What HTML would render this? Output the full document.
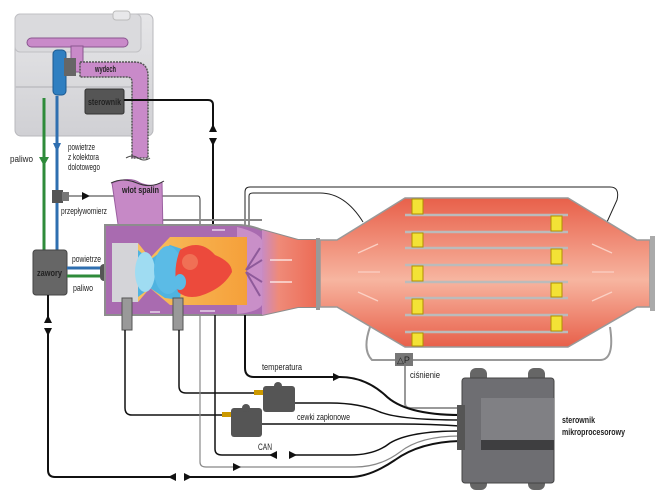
<!DOCTYPE html>
<html><head><meta charset="utf-8"><style>
html,body{margin:0;padding:0;background:#fff}
svg{display:block}
text{font-family:"Liberation Sans",Arial,sans-serif;font-size:9px;fill:#222}
.b{font-weight:bold}
</style></head><body>
<svg width="660" height="496" viewBox="0 0 660 496" xmlns="http://www.w3.org/2000/svg">
<defs>
<linearGradient id="pk" x1="0" y1="0" x2="0" y2="1">
<stop offset="0" stop-color="#e8604a"/><stop offset="0.55" stop-color="#f7b5a0"/><stop offset="1" stop-color="#e8604a"/></linearGradient>
<linearGradient id="tube" x1="0" y1="0" x2="1" y2="0">
<stop offset="0" stop-color="#c88bc4"/><stop offset="0.3" stop-color="#ef8a78"/><stop offset="1" stop-color="#ec6b55"/></linearGradient>
<linearGradient id="orng" x1="0" y1="0" x2="1" y2="0">
<stop offset="0" stop-color="#f8c060"/><stop offset="1" stop-color="#f5a03a"/></linearGradient>
<linearGradient id="eng" x1="0" y1="0" x2="0" y2="1">
<stop offset="0" stop-color="#e6e6e8"/><stop offset="1" stop-color="#d0d0d4"/></linearGradient>
</defs>

<!-- ENGINE -->
<rect x="15" y="14" width="138" height="122" rx="6" fill="url(#eng)" stroke="#b8b8bc"/>
<rect x="15" y="14" width="126" height="38" rx="5" fill="#dadadd" stroke="#c0c0c4"/>
<rect x="113" y="11" width="17" height="9" rx="3" fill="#e8e8ea" stroke="#bbb"/>
<rect x="15" y="86" width="125" height="2" fill="#c4c4c8"/>
<rect x="27" y="38" width="101" height="9" rx="4.5" fill="#c98ac9" stroke="#8a5590"/>
<rect x="71" y="46" width="12" height="26" fill="#c98ac9" stroke="#8a5590"/>
<path d="M80 62 H134 Q148 62 148 76 V158 H132 V82 Q132 77 127 77 H80 Z" fill="#c98ac9" stroke="#555" stroke-width="1.5" stroke-dasharray="2 1"/>
<path d="M126 158 q6 -4 12 0 q6 4 12 0" fill="none" stroke="#444"/>
<text x="95" y="72" font-size="8" class="b" fill="#333" textLength="21" lengthAdjust="spacingAndGlyphs">wydech</text>
<rect x="53" y="50" width="13" height="45" rx="4" fill="#2f7fc1" stroke="#1d5a90"/>
<rect x="64" y="58" width="12" height="18" fill="#666"/>
<rect x="85" y="89" width="39" height="25" rx="2" fill="#555" stroke="#333"/>
<text x="88" y="105" font-size="8.5" class="b" fill="#fff" textLength="33" lengthAdjust="spacingAndGlyphs">sterownik</text>

<!-- fuel / air lines -->
<line x1="44" y1="98" x2="44" y2="252" stroke="#2e8b3a" stroke-width="3"/>
<line x1="57" y1="96" x2="57" y2="252" stroke="#2f6fb0" stroke-width="3"/>
<path d="M39 157 H49 L44 166 Z" fill="#2e8b3a"/>
<path d="M53 143 H61 L57 152 Z" fill="#2f6fb0"/>
<text x="10" y="162" font-size="8" textLength="23" lengthAdjust="spacingAndGlyphs">paliwo</text>
<text x="68" y="150" font-size="8" textLength="27" lengthAdjust="spacingAndGlyphs">powietrze</text>
<text x="68" y="160" font-size="8" textLength="31" lengthAdjust="spacingAndGlyphs">z kolektora</text>
<text x="68" y="170" font-size="8" textLength="32" lengthAdjust="spacingAndGlyphs">dolotowego</text>
<rect x="52" y="190" width="11" height="13" fill="#555"/>
<rect x="62" y="192" width="7" height="9" fill="#777"/>
<line x1="69" y1="196" x2="198" y2="196" stroke="#333"/>
<path d="M82 192 L90 196 L82 200 Z" fill="#111"/>
<path d="M198 196 Q200 196 200 200 V228" fill="none" stroke="#333"/>
<text x="61" y="214" font-size="8" textLength="46" lengthAdjust="spacingAndGlyphs">przepływomierz</text>

<!-- zawory -->
<rect x="33" y="250" width="34" height="45" rx="3" fill="#666" stroke="#444"/>
<text x="37" y="276" font-size="8.5" class="b" fill="#fff" textLength="25" lengthAdjust="spacingAndGlyphs">zawory</text>
<line x1="67" y1="268" x2="104" y2="268" stroke="#2f6fb0" stroke-width="3"/>
<line x1="67" y1="276" x2="104" y2="276" stroke="#2e8b3a" stroke-width="3"/>
<rect x="100" y="264" width="16" height="17" rx="4" fill="#555"/>
<text x="72" y="262" font-size="8" textLength="29" lengthAdjust="spacingAndGlyphs">powietrze</text>
<text x="73" y="291" font-size="8" textLength="20" lengthAdjust="spacingAndGlyphs">paliwo</text>
<path d="M48 295 V470 Q48 477 55 477 H350 Q370 477 395 460 Q420 442 460 441" fill="none" stroke="#111" stroke-width="2"/>
<rect x="44" y="322" width="8" height="8" fill="#fff"/>
<path d="M44 323 L48 315 L52 323 Z M44 328 L48 336 L52 328Z" fill="#111"/>
<rect x="175" y="474" width="10" height="6" fill="#fff"/>
<path d="M176 473 L168 477 L176 481 Z M184 473 L192 477 L184 481Z" fill="#111"/>

<!-- sterownik link -->
<path d="M124 100 H208 Q213 100 213 105 V228" fill="none" stroke="#111" stroke-width="2"/>
<rect x="209" y="130" width="8" height="10" fill="#fff"/>
<path d="M209 132 L213 124 L217 132 Z M209 138 L213 146 L217 138Z" fill="#111"/>

<!-- sensor lines top -->
<path d="M245 232 V192 Q245 187 250 187 H610 Q620 187 617 200 L607 222" fill="none" stroke="#222"/>
<path d="M249 232 V196 Q249 193 253 193 H320 Q345 193 363 222" fill="none" stroke="#222"/>
<line x1="148" y1="220" x2="262" y2="220" stroke="#888" stroke-width="2"/>

<!-- wlot spalin -->
<path d="M112 183 Q130 176 140 183 Q152 188 162 182 L163 235 L150 258 L140 245 L120 238 Z" fill="#c689c6" stroke="#9a5fa0"/>
<path d="M111 183 q12 -6 26 0 q14 6 27 -2" fill="none" stroke="#333"/>
<text x="122" y="193" font-size="8" class="b" fill="#333" textLength="37" lengthAdjust="spacingAndGlyphs">wlot spalin</text>

<!-- burner housing -->
<path d="M105 225 H237 Q250 225 262 230 L298 240 H318 V307 H298 L262 315 H105 Z" fill="#a96bb0" stroke="#8d8d8d" stroke-width="2"/>
<path d="M262 230 L298 240 H318 V307 H298 L262 315 Z" fill="url(#tube)"/>
<path d="M237 227 Q258 232 262 240 V305 Q258 312 237 314 Z" fill="#c98fc8"/>
<rect x="112" y="243" width="26" height="59" fill="#d4d4d8"/>
<path d="M138 243 L150 258 L170 237 H247 V305 H170 L150 288 L138 302 Z" fill="url(#orng)"/>
<path d="M138 250 L150 260 L170 245 L185 250 L180 300 L165 298 L150 288 L138 297 Z" fill="#4fb3e0"/>
<ellipse cx="145" cy="272" rx="10" ry="20" fill="#9fdcf2"/>
<ellipse cx="168" cy="270" rx="14" ry="24" fill="#5bbbe6"/>
<path d="M180 250 Q200 238 215 255 Q232 262 232 272 Q225 285 210 292 Q190 302 178 292 Q172 270 180 250Z" fill="#ec4a3c"/>
<ellipse cx="190" cy="262" rx="8" ry="8" fill="#f07055"/>
<ellipse cx="180" cy="282" rx="6" ry="8" fill="#5bbbe6"/>
<g stroke="#8e5a9a" stroke-width="2">
<line x1="246" y1="270" x2="260" y2="248"/><line x1="246" y1="270" x2="262" y2="260"/><line x1="246" y1="272" x2="262" y2="282"/><line x1="246" y1="272" x2="260" y2="296"/></g>
<g stroke="#fff" stroke-width="1.2" opacity="0.9">
<line x1="212" y1="230" x2="225" y2="230"/><line x1="150" y1="312" x2="160" y2="312"/><line x1="200" y1="311" x2="215" y2="311"/>
<line x1="270" y1="260" x2="292" y2="260"/><line x1="270" y1="282" x2="292" y2="282"/></g>
<rect x="122" y="298" width="10" height="32" fill="#999" stroke="#555"/>
<rect x="173" y="298" width="10" height="32" fill="#999" stroke="#555"/>

<!-- DPF -->
<rect x="316" y="238" width="4" height="72" fill="#999"/>
<path d="M320 240 H337 L405 198 H568 L637 240 H650 V307 H637 L568 347 H405 L337 307 H320 Z" fill="url(#pk)" stroke="#999" stroke-width="1.5"/>
<rect x="650" y="236" width="5" height="75" fill="#aaa"/>
<g stroke="#bbb" stroke-width="2.5">
<line x1="405" y1="215" x2="568" y2="215"/><line x1="405" y1="232" x2="568" y2="232"/><line x1="405" y1="248" x2="568" y2="248"/><line x1="405" y1="265" x2="568" y2="265"/><line x1="405" y1="282" x2="568" y2="282"/><line x1="405" y1="298" x2="568" y2="298"/><line x1="405" y1="315" x2="568" y2="315"/><line x1="405" y1="332" x2="568" y2="332"/></g>
<g fill="#f3e236" stroke="#b09000">
<rect x="412" y="199" width="11" height="15"/><rect x="412" y="233" width="11" height="14"/><rect x="412" y="266" width="11" height="15"/><rect x="412" y="299" width="11" height="15"/><rect x="412" y="333" width="11" height="13"/>
<rect x="551" y="216" width="11" height="15"/><rect x="551" y="249" width="11" height="15"/><rect x="551" y="283" width="11" height="14"/><rect x="551" y="316" width="11" height="15"/></g>
<g stroke="#fbd0c4" stroke-width="1.3" fill="none">
<path d="M358 253 L378 244"/><path d="M358 272 H380"/><path d="M358 292 L378 301"/>
<path d="M592 244 L612 253"/><path d="M592 272 H614"/><path d="M592 301 L612 292"/></g>
<path d="M370 327 Q362 350 372 360 H600 Q615 360 610 327" fill="none" stroke="#999" stroke-width="2"/>
<rect x="395" y="353" width="18" height="13" fill="#777"/>
<text x="397" y="363" font-size="8" fill="#fff">△P</text>
<path d="M405 366 V403 Q405 408 410 408 H460" fill="none" stroke="#999" stroke-width="2"/>
<text x="410" y="378" font-size="8" textLength="30" lengthAdjust="spacingAndGlyphs">ciśnienie</text>

<!-- lower wiring -->
<path d="M245 315 V368 Q245 377 254 377 H340 Q365 377 385 395 Q405 415 460 415" fill="none" stroke="#111" stroke-width="2"/>
<path d="M333 373 L341 377 L333 381Z" fill="#111"/>
<text x="262" y="370" font-size="8" textLength="40" lengthAdjust="spacingAndGlyphs">temperatura</text>
<path d="M179 330 V386 Q179 393 186 393 H257" fill="none" stroke="#111" stroke-width="1.5"/>
<path d="M125 330 V408 Q125 415 132 415 H225" fill="none" stroke="#111" stroke-width="1.5"/>
<path d="M295 403 H330 Q360 403 380 412 Q400 420 460 420" fill="none" stroke="#111" stroke-width="1.5"/>
<path d="M262 424 H400 Q430 424 460 426" fill="none" stroke="#111" stroke-width="1.5"/>
<path d="M215 315 V449 Q215 455 222 455 H350 Q375 455 390 443 Q410 431 460 431" fill="none" stroke="#111" stroke-width="1.5"/>
<rect x="276" y="452" width="14" height="6" fill="#fff"/>
<path d="M277 451 L269 455 L277 459Z M289 451 L297 455 L289 459Z" fill="#111"/>
<text x="258" y="450" font-size="8" textLength="14" lengthAdjust="spacingAndGlyphs">CAN</text>
<path d="M200 315 V462 Q200 467 206 467 H355 Q380 467 400 452 Q420 436 460 436" fill="none" stroke="#888" stroke-width="1.2"/>
<path d="M233 463 L241 467 L233 471Z" fill="#111"/>
<rect x="254" y="390" width="10" height="5" fill="#c90"/>
<rect x="263" y="386" width="32" height="26" rx="3" fill="#555"/>
<circle cx="278" cy="386" r="4" fill="#555"/>
<rect x="222" y="412" width="10" height="5" fill="#c90"/>
<rect x="231" y="408" width="31" height="29" rx="3" fill="#555"/>
<circle cx="246" cy="408" r="4" fill="#555"/>
<text x="297" y="420" font-size="8" textLength="53" lengthAdjust="spacingAndGlyphs">cewki zapłonowe</text>

<!-- ECU -->
<rect x="470" y="368" width="17" height="18" rx="6" fill="#666"/>
<rect x="528" y="368" width="17" height="18" rx="6" fill="#666"/>
<rect x="470" y="476" width="17" height="14" rx="6" fill="#666"/>
<rect x="528" y="476" width="17" height="14" rx="6" fill="#666"/>
<rect x="462" y="378" width="92" height="105" rx="3" fill="#6e6e72" stroke="#444"/>
<rect x="481" y="398" width="73" height="46" fill="#808084"/>
<rect x="481" y="440" width="73" height="10" fill="#3e3e40"/>
<rect x="457" y="405" width="8" height="45" fill="#555"/>
<text x="562" y="423" font-size="8.5" class="b" textLength="33" lengthAdjust="spacingAndGlyphs">sterownik</text>
<text x="562" y="435" font-size="8.5" class="b" textLength="63" lengthAdjust="spacingAndGlyphs">mikroprocesorowy</text>
</svg>
</body></html>
